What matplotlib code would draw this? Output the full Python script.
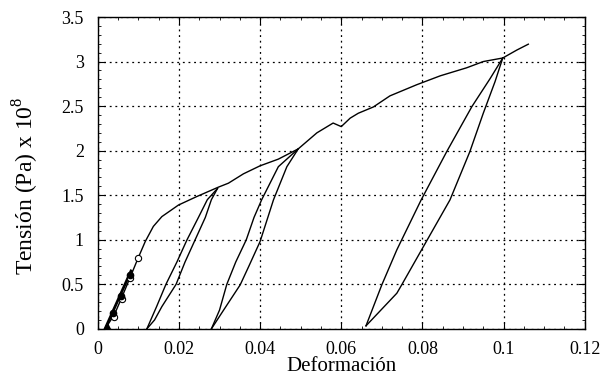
import numpy as np
import matplotlib
matplotlib.use("Agg")
import matplotlib.pyplot as plt
from matplotlib.ticker import MultipleLocator, FuncFormatter

plt.rcParams["font.family"] = ["Liberation Serif", "DejaVu Serif"]
plt.rcParams["mathtext.fontset"] = "custom"
plt.rcParams["mathtext.rm"] = "Liberation Serif"

# curva envolvente
env_x = [0.0018, 0.0041, 0.0059, 0.0080, 0.0099, 0.0117, 0.0137, 0.0158, 0.0199,
         0.0244, 0.0297, 0.0322, 0.0359, 0.0400, 0.0445, 0.0494, 0.0540, 0.0580,
         0.0600, 0.0622, 0.0642, 0.0679, 0.0720, 0.0786, 0.0844, 0.0909, 0.0950,
         0.0998, 0.1033, 0.1061]
env_y = [0.00, 0.16, 0.35, 0.58, 0.79, 0.98, 1.15, 1.26, 1.39,
         1.485, 1.59, 1.635, 1.74, 1.83, 1.905, 2.02, 2.20, 2.31,
         2.27, 2.365, 2.42, 2.49, 2.615, 2.74, 2.84, 2.93, 3.00,
         3.04, 3.13, 3.195]

# ciclos de descarga / recarga
c1_a_x = [0.0121, 0.0145, 0.0168, 0.0195, 0.0220, 0.0248, 0.0270, 0.0295]
c1_a_y = [0.00, 0.25, 0.50, 0.75, 1.00, 1.25, 1.45, 1.575]
c1_b_x = [0.0121, 0.0140, 0.0158, 0.0193, 0.0215, 0.0240, 0.0265, 0.0280, 0.0295]
c1_b_y = [0.00, 0.10, 0.25, 0.50, 0.75, 1.00, 1.25, 1.45, 1.575]

c2_a_x = [0.0280, 0.0300, 0.0318, 0.0340, 0.0366, 0.0385, 0.0404, 0.0445, 0.0494]
c2_a_y = [0.00, 0.21, 0.50, 0.75, 1.00, 1.25, 1.45, 1.82, 2.02]
c2_b_x = [0.0280, 0.0310, 0.0351, 0.0372, 0.0400, 0.0433, 0.0466, 0.0494]
c2_b_y = [0.00, 0.21, 0.494, 0.70, 0.98, 1.448, 1.82, 2.02]

c3_a_x = [0.0661, 0.0700, 0.0737, 0.0797, 0.0860, 0.0922, 0.0967, 0.0998]
c3_a_y = [0.034, 0.494, 0.887, 1.448, 1.99, 2.495, 2.81, 3.04]
c3_b_x = [0.0661, 0.0737, 0.0749, 0.0798, 0.0868, 0.0917, 0.0950, 0.0979, 0.0998]
c3_b_y = [0.034, 0.40, 0.494, 0.887, 1.448, 1.99, 2.42, 2.775, 3.04]

# tramo elastico con marcadores
lleno_x = [0.0038, 0.0057, 0.0080]
lleno_y = [0.18, 0.37, 0.61]
tri_x = [0.0022]
tri_y = [0.03]
vacio_x = [0.0041, 0.0059, 0.0079, 0.0099]
vacio_y = [0.13, 0.33, 0.57, 0.79]
recta_x = [0.0018, 0.0082]
recta_y = [0.00, 0.65]

fig = plt.figure(figsize=(6.11, 3.78), dpi=100)
ax = fig.add_axes([0.160, 0.130, 0.797, 0.825])

lw = 1.0
ax.plot(env_x, env_y, color="black", lw=lw)
for xs, ys in [(c1_a_x, c1_a_y), (c1_b_x, c1_b_y), (c2_a_x, c2_a_y),
               (c2_b_x, c2_b_y), (c3_a_x, c3_a_y), (c3_b_x, c3_b_y)]:
    ax.plot(xs, ys, color="black", lw=lw)

ax.plot(recta_x, recta_y, color="black", lw=2.0)
ax.plot(vacio_x, vacio_y, "o", mfc="white", mec="black", ms=4.5, mew=0.8)
ax.plot(lleno_x, lleno_y, "o", color="black", ms=4.5)
ax.plot(tri_x, tri_y, "^", color="black", ms=4.5)

ax.set_xlim(0, 0.12)
ax.set_ylim(0, 3.5)
ax.xaxis.set_major_locator(MultipleLocator(0.02))
ax.xaxis.set_minor_locator(MultipleLocator(0.005))
ax.yaxis.set_major_locator(MultipleLocator(0.5))
ax.yaxis.set_minor_locator(MultipleLocator(0.1))
fmt = FuncFormatter(lambda v, p: "%g" % round(v, 4))
ax.xaxis.set_major_formatter(fmt)
ax.yaxis.set_major_formatter(fmt)
ax.tick_params(which="both", direction="in", top=True, right=True, labelsize=13)
ax.tick_params(which="major", length=5)
ax.tick_params(which="minor", length=2.5)
ax.tick_params(axis="x", which="major", pad=9)
ax.tick_params(axis="y", which="major", pad=10)
ax.grid(True, which="major", linestyle=(0, (1.5, 3)), color="black", lw=0.9)
for s in ax.spines.values():
    s.set_linewidth(1.0)

ax.set_xlabel("Deformación", fontsize=15, labelpad=-1)
ax.set_ylabel("Tensión (Pa) x 10$^{8}$", fontsize=17)
ax.yaxis.set_label_coords(-0.116, 0.46)

fig.savefig("out.png", dpi=100)
